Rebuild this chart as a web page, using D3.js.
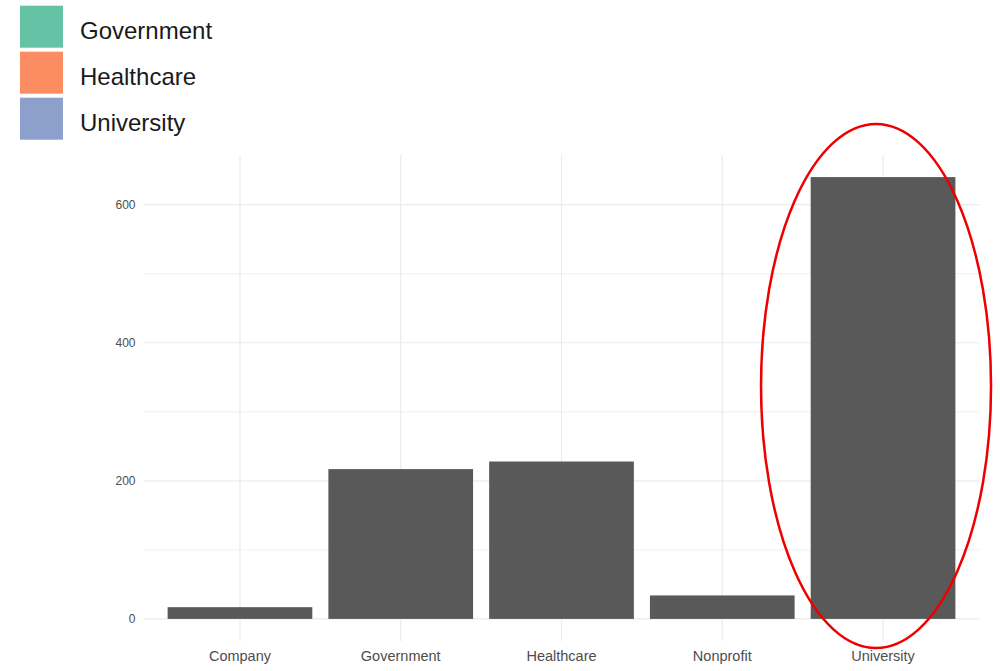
<!DOCTYPE html>
<html>
<head>
<meta charset="utf-8">
<script src="https://cdn.jsdelivr.net/npm/d3@7"></script>
<style>
  html, body { margin: 0; padding: 0; background: #fff; }
  svg { display: block; font-family: "Liberation Sans", Arial, sans-serif; }
</style>
</head>
<body>
<svg id="chart" width="1000" height="671"></svg>
<script>
const categories = ["Company", "Government", "Healthcare", "Nonprofit", "University"];
const counts = [17, 217, 228, 34, 640];
const yTicks = [0, 200, 400, 600];
const yMinorTicks = [100, 300, 500];
const legendLabels = ["Government", "Healthcare", "University"];
const legendColors = ["#66c2a5", "#fc8d62", "#8da0cb"];

const svg = d3.select("#chart");
const panel = { left: 143.5, right: 979.5, top: 155, bottom: 641 };

const x = d3.scaleBand()
  .domain(categories)
  .range([panel.left, panel.right])
  .paddingInner(0.1)
  .paddingOuter(0.15);

const maxV = d3.max(counts);
const y = d3.scaleLinear()
  .domain([-0.05 * maxV, maxV * 1.05])
  .range([panel.bottom, panel.top]);

const grid = svg.append("g");
grid.selectAll("line.minor").data(yMinorTicks).join("line")
  .attr("x1", panel.left).attr("x2", panel.right)
  .attr("y1", d => y(d)).attr("y2", d => y(d))
  .attr("stroke", "#f0f0f0").attr("stroke-width", 1);
grid.selectAll("line.major").data(yTicks).join("line")
  .attr("x1", panel.left).attr("x2", panel.right)
  .attr("y1", d => y(d)).attr("y2", d => y(d))
  .attr("stroke", "#ebebeb").attr("stroke-width", 1.2);
grid.selectAll("line.v").data(categories).join("line")
  .attr("x1", d => x(d) + x.bandwidth() / 2).attr("x2", d => x(d) + x.bandwidth() / 2)
  .attr("y1", panel.top).attr("y2", panel.bottom)
  .attr("stroke", "#ebebeb").attr("stroke-width", 1.2);

svg.append("g").selectAll("rect").data(categories).join("rect")
  .attr("x", d => x(d))
  .attr("width", x.bandwidth())
  .attr("y", (d, i) => y(counts[i]))
  .attr("height", (d, i) => y(0) - y(counts[i]))
  .attr("fill", "#595959");

const yAxis = d3.axisLeft(y).tickValues(yTicks).tickSize(0).tickPadding(0);
const yg = svg.append("g").attr("transform", `translate(${panel.left - 8},0)`).call(yAxis);
yg.select(".domain").remove();
yg.selectAll("text").attr("fill", "#4d4d4d").attr("font-size", 12)
  .attr("font-family", "Liberation Sans, Arial, sans-serif");

const xAxis = d3.axisBottom(x).tickSize(0).tickPadding(0);
const xg = svg.append("g").attr("transform", `translate(0,${panel.bottom + 10})`).call(xAxis);
xg.select(".domain").remove();
xg.selectAll("text").attr("fill", "#4d4d4d").attr("font-size", 14.5)
  .attr("font-family", "Liberation Sans, Arial, sans-serif");

const lg = svg.append("g");
legendLabels.forEach((lab, i) => {
  const ty = 5.7 + i * 46;
  lg.append("rect").attr("x", 20).attr("y", ty).attr("width", 43).attr("height", 42)
    .attr("fill", legendColors[i]);
  lg.append("text").attr("x", 80).attr("y", ty + 25).attr("dy", "0.35em")
    .attr("font-size", 24).attr("fill", "#1a1a1a").text(lab);
});

const ux = x("University") + x.bandwidth() / 2;
svg.append("ellipse")
  .attr("cx", ux - 7).attr("cy", 386)
  .attr("rx", 115).attr("ry", 262)
  .attr("fill", "none").attr("stroke", "#ee0000").attr("stroke-width", 2.5);
</script>
</body>
</html>
